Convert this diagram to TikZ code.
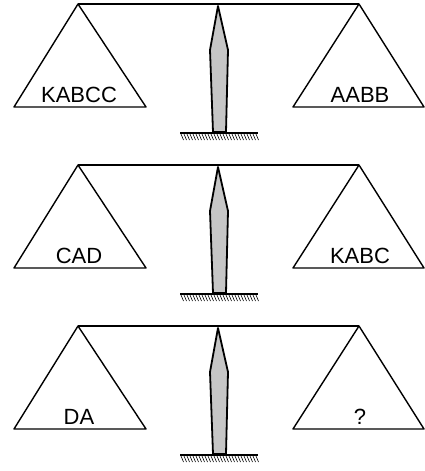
\documentclass[tikz,border=0pt]{standalone}
\usepackage{fontspec}
\setmainfont{Liberation Sans}
\usepackage{tikz}

\begin{document}
\begin{tikzpicture}[x=1pt, y=-1pt, line join=round,
    pan/.style={draw, line width=1.4pt},
    beam/.style={draw, line width=1.8pt},
    post/.style={draw, line width=1.8pt, fill=gray!45},
    load/.style={anchor=base, inner sep=0pt, font=\fontsize{22}{26}\selectfont}]
  \useasboundingbox (0,0) rectangle (425,471);

  \foreach \i/\lw/\rw in {0/KABCC/AABB, 1/CAD/KABC, 2/DA/?} {
    \pgfmathsetmacro{\dy}{161*\i}
    \begin{scope}[yshift=-\dy pt]
      % beam and pans
      \coordinate (A\i) at (78,4);
      \coordinate (B\i) at (359,4);
      \coordinate (P\i) at (218,6);
      \draw [beam] (A\i) -- (B\i);
      \draw [pan] (A\i) -- (146,107) -- (14,107) -- cycle;
      \draw [pan] (B\i) -- (424,107) -- (293,107) -- cycle;
      \node [load] (L\i) at (79,102) {\lw};
      \node [load] (R\i) at (360,102) {\rw};

      % post and ground
      \draw [post] (P\i) -- (228,50) -- (226,132) -- (213,132) -- (210,50) -- cycle;
      \coordinate (G\i) at (180,133);
      \coordinate (H\i) at (258,133);
      \draw [line width=1.4pt] (G\i) -- (H\i);
      \foreach \x in {181,184,...,256}
        \draw [line width=0.6pt] (\x,134) -- (\x+2.5,140);
    \end{scope}
  }
\end{tikzpicture}
\end{document}
